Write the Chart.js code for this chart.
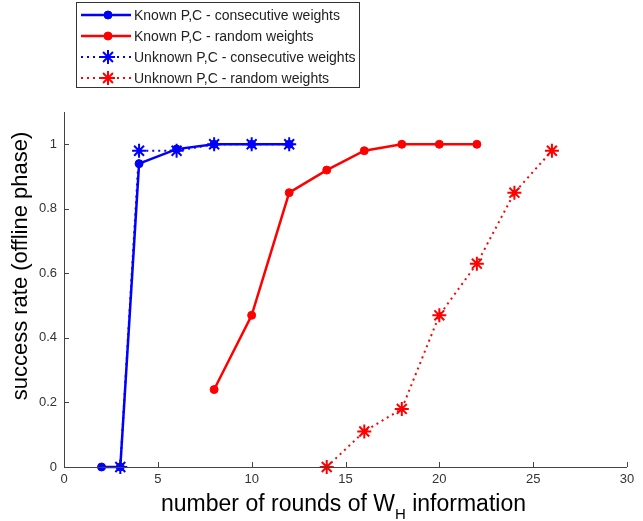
<!DOCTYPE html>
<html>
<head>
<meta charset="utf-8">
<script src="https://cdn.jsdelivr.net/npm/chart.js@4"></script>
<style>
  html, body { margin: 0; padding: 0; background: #fff; }
  #wrap { width: 643px; height: 521px; position: relative; }
</style>
</head>
<body>
<div id="wrap"><canvas id="c" width="643" height="521"></canvas></div>
<script>
// values
const knownConsX = [2, 3, 4, 6, 8, 10, 12];
const knownConsY = [0, 0, 0.94, 0.985, 1, 1, 1];
const unknownConsX = [3, 4, 6, 8, 10, 12];
const unknownConsY = [0, 0.98, 0.98, 1, 1, 1];
const knownRandX = [8, 10, 12, 14, 16, 18, 20, 22];
const knownRandY = [0.24, 0.47, 0.85, 0.92, 0.98, 1, 1, 1];
const unknownRandX = [14, 16, 18, 20, 22, 24, 26];
const unknownRandY = [0, 0.11, 0.18, 0.47, 0.63, 0.85, 0.98];
const xTicks = [0, 5, 10, 15, 20, 25, 30];
const yTicks = [0, 0.2, 0.4, 0.6, 0.8, 1];
const labels = [
  "Known P,C - consecutive weights",
  "Known P,C - random weights",
  "Unknown P,C - consecutive weights",
  "Unknown P,C - random weights"
];
const yTitle = "success rate (offline phase)";

const BLUE = "#0000ff", RED = "#ff0000";
const FONT = "'Liberation Sans', Arial, sans-serif";

function pts(xs, ys) {
  return xs.map((x, i) => ({ x: x, y: ys[i] }));
}

function series(label, xs, ys, color, dotted) {
  return {
    label: label,
    data: pts(xs, ys),
    borderColor: color,
    backgroundColor: color,
    borderWidth: dotted ? 2 : 2.5,
    borderDash: dotted ? [2, 4] : [],
    pointStyle: dotted ? "star" : "circle",
    pointRadius: dotted ? 7 : 4,
    pointBorderWidth: dotted ? 2 : 1,
    pointBorderColor: color,
    pointBackgroundColor: color,
    tension: 0,
    clip: false
  };
}

// axes lines, inward tick marks, axis titles, legend box
const matlabAxes = {
  id: "matlabAxes",
  afterDraw(chart) {
    const ctx = chart.ctx;
    const a = chart.chartArea;
    const xs = chart.scales.x, ys = chart.scales.y;
    ctx.save();
    ctx.strokeStyle = "#444";
    ctx.lineWidth = 1;
    ctx.beginPath();
    ctx.moveTo(a.left + 0.5, a.top);
    ctx.lineTo(a.left + 0.5, a.bottom + 0.5);
    ctx.lineTo(a.right, a.bottom + 0.5);
    xTicks.forEach(v => {
      const px = Math.round(xs.getPixelForValue(v)) + 0.5;
      ctx.moveTo(px, a.bottom);
      ctx.lineTo(px, a.bottom - 5);
    });
    yTicks.forEach(v => {
      const py = Math.round(ys.getPixelForValue(v)) + 0.5;
      ctx.moveTo(a.left, py);
      ctx.lineTo(a.left + 5, py);
    });
    ctx.stroke();

    // y axis title
    ctx.save();
    ctx.fillStyle = "#000";
    ctx.font = "22px " + FONT;
    ctx.textAlign = "center";
    ctx.textBaseline = "middle";
    ctx.translate(21, 266);
    ctx.rotate(-Math.PI / 2);
    ctx.fillText(yTitle, 0, 0);
    ctx.restore();

    // x axis title: number of rounds of W_H information
    ctx.fillStyle = "#000";
    ctx.textBaseline = "alphabetic";
    const big = "23px " + FONT, small = "15px " + FONT;
    const p1 = "number of rounds of W", p2 = "H", p3 = " information";
    ctx.font = big;
    const w1 = ctx.measureText(p1).width, w3 = ctx.measureText(p3).width;
    ctx.font = small;
    const w2 = ctx.measureText(p2).width;
    const total = w1 + w2 + w3;
    const cx = (a.left + a.right) / 2 - 2;
    let x0 = cx - total / 2;
    const base = 511;
    ctx.textAlign = "left";
    ctx.font = big;
    ctx.fillText(p1, x0, base);
    ctx.font = small;
    ctx.fillText(p2, x0 + w1, base + 8);
    ctx.font = big;
    ctx.fillText(p3, x0 + w1 + w2, base);

    // legend
    const bx = 76, by = 2, bw = 283, bh = 85;
    ctx.fillStyle = "#fff";
    ctx.fillRect(bx, by, bw, bh);
    ctx.strokeStyle = "#333";
    ctx.strokeRect(bx + 0.5, by + 0.5, bw, bh);
    const rowY = [15, 36, 57, 78];
    chart.data.datasets.forEach((ds, r) => {
      const y = rowY[r];
      ctx.save();
      ctx.strokeStyle = ds.borderColor;
      ctx.fillStyle = ds.borderColor;
      ctx.lineWidth = ds.borderWidth;
      ctx.setLineDash(ds.borderDash);
      ctx.beginPath();
      ctx.moveTo(81, y);
      ctx.lineTo(131, y);
      ctx.stroke();
      ctx.setLineDash([]);
      ctx.lineWidth = ds.pointBorderWidth;
      Chart.helpers.drawPoint(ctx, {
        pointStyle: ds.pointStyle,
        radius: ds.pointRadius,
        borderWidth: ds.pointBorderWidth
      }, 108, y);
      ctx.restore();
      ctx.fillStyle = "#222";
      ctx.font = "14px " + FONT;
      ctx.textAlign = "left";
      ctx.textBaseline = "middle";
      ctx.fillText(ds.label, 134, y + 1);
    });
    ctx.restore();
  }
};

new Chart(document.getElementById("c"), {
  type: "line",
  data: {
    datasets: [
      series(labels[0], knownConsX, knownConsY, BLUE, false),
      series(labels[1], knownRandX, knownRandY, RED, false),
      series(labels[2], unknownConsX, unknownConsY, BLUE, true),
      series(labels[3], unknownRandX, unknownRandY, RED, true)
    ]
  },
  options: {
    responsive: false,
    animation: false,
    layout: { padding: { top: 112, right: 16, left: 0, bottom: 0 } },
    plugins: { legend: { display: false }, tooltip: { enabled: false } },
    scales: {
      x: {
        type: "linear",
        min: 0, max: 30,
        afterBuildTicks(s) { s.ticks = xTicks.map(v => ({ value: v })); },
        afterFit(s) { s.height = 54; },
        grid: { display: false },
        border: { display: false },
        ticks: { color: "#333", padding: -3, font: { family: FONT, size: 13 } }
      },
      y: {
        type: "linear",
        min: 0, max: 1.1,
        afterBuildTicks(s) { s.ticks = yTicks.map(v => ({ value: v })); },
        afterFit(s) { s.width = 64; },
        grid: { display: false },
        border: { display: false },
        ticks: {
          color: "#333", padding: -1, font: { family: FONT, size: 13 },
          callback: v => String(Math.round(v * 10) / 10)
        }
      }
    }
  },
  plugins: [matlabAxes]
});
</script>
</body>
</html>
